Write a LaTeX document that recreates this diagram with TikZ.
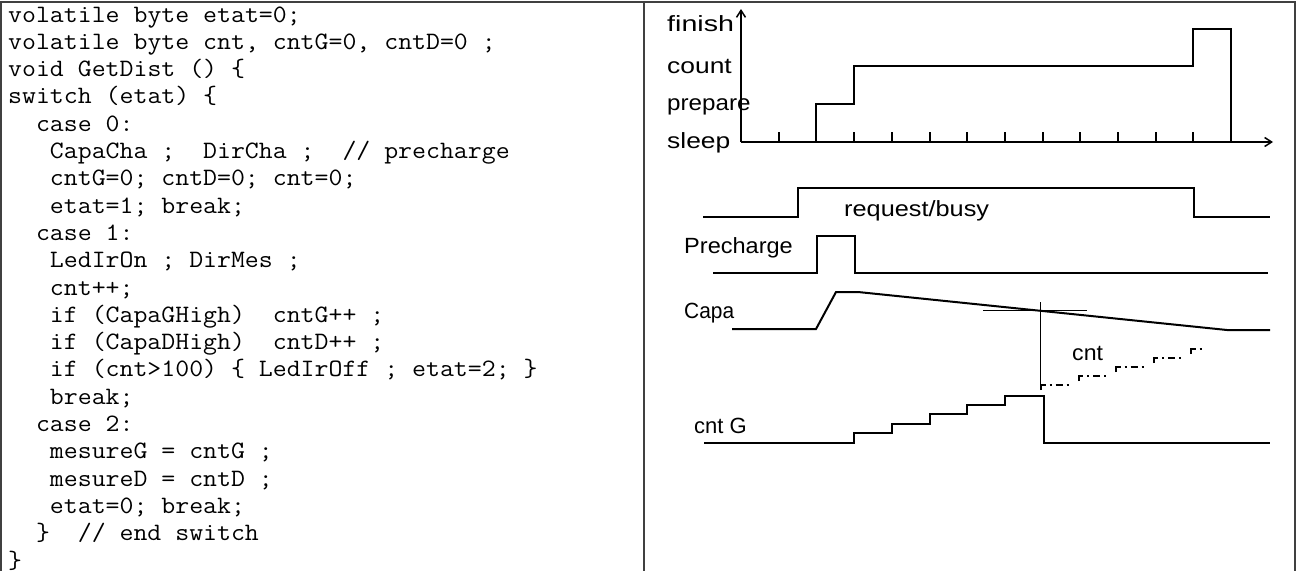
\documentclass[tikz,border=0pt]{standalone}
\usepackage{fontspec}
\setmainfont{Liberation Sans}
\usetikzlibrary{arrows.meta}
\newcommand{\codetxt}[1]{\scalebox{1.082}[1]{\ttfamily\fontsize{25}{27}\selectfont #1}}
\begin{document}
\begin{tikzpicture}[x=1pt,y=-1pt,
  sig/.style={line width=2pt, line join=miter},
  thinline/.style={line width=0.9pt},
  framestyle/.style={line width=1.3pt, draw=black!75},
  codeline/.style={anchor=base west, inner sep=0pt},
  lab/.style={anchor=base west, inner sep=0pt, font=\fontsize{22}{24}\selectfont},
  cntstep/.style={line width=2pt, dash pattern=on 9.5pt off 4pt on 2pt off 4pt on 7pt off 4pt on 2pt off 20pt},
  axisarrow/.style={-{Straight Barb[length=7pt,width=9pt,line width=1.5pt]}}]
\useasboundingbox (0,0) rectangle (1300,571);
% frame
\draw[framestyle] (0,2) -- (1295,2) -- (1295,571);
\draw[framestyle] (1,2) -- (1,571);
\draw[framestyle] (644,2) -- (644,571);
% code
\node[codeline] (l1) at (8,22) {\codetxt{volatile byte etat=0;}};
\node[codeline] (l2) at (8,49.3) {\codetxt{volatile byte cnt, cntG=0, cntD=0 ;}};
\node[codeline] (l3) at (8,76.6) {\codetxt{void GetDist () \{}};
\node[codeline] (l4) at (8,103.9) {\codetxt{switch (etat) \{}};
\node[codeline] (l5) at (8,131.2) {\codetxt{~~case 0:}};
\node[codeline] (l6) at (8,158.5) {\codetxt{~~~CapaCha ;~~DirCha ;~~// precharge}};
\node[codeline] (l7) at (8,185.8) {\codetxt{~~~cntG=0; cntD=0; cnt=0;}};
\node[codeline] (l8) at (8,213.1) {\codetxt{~~~etat=1; break;}};
\node[codeline] (l9) at (8,240.4) {\codetxt{~~case 1:}};
\node[codeline] (l10) at (8,267.7) {\codetxt{~~~LedIrOn ; DirMes ;}};
\node[codeline] (l11) at (8,295) {\codetxt{~~~cnt++;}};
\node[codeline] (l12) at (8,322.3) {\codetxt{~~~if (CapaGHigh)~~cntG++ ;}};
\node[codeline] (l13) at (8,349.6) {\codetxt{~~~if (CapaDHigh)~~cntD++ ;}};
\node[codeline] (l14) at (8,376.9) {\codetxt{~~~if (cnt>100) \{ LedIrOff ; etat=2; \}}};
\node[codeline] (l15) at (8,404.2) {\codetxt{~~~break;}};
\node[codeline] (l16) at (8,431.5) {\codetxt{~~case 2:}};
\node[codeline] (l17) at (8,458.8) {\codetxt{~~~mesureG = cntG ;}};
\node[codeline] (l18) at (8,486.1) {\codetxt{~~~mesureD = cntD ;}};
\node[codeline] (l19) at (8,513.4) {\codetxt{~~~etat=0; break;}};
\node[codeline] (l20) at (8,540.7) {\codetxt{~~\}~~// end switch}};
\node[codeline] (l21) at (8,568) {\codetxt{\}}};
% state diagram axes
\coordinate (O) at (741,142);
\coordinate (Ytop) at (741,9);
\coordinate (Xend) at (1273,142);
\draw[sig, axisarrow] (O) -- (Ytop);
\draw[sig, axisarrow] (O) -- (Xend);
\foreach \k in {1,...,13}
  \draw[sig] ({741+37.7*\k},142) -- ({741+37.7*\k},132);
\draw[sig] (O) -- (816.4,142) -- (816.4,104) -- (854.1,104) -- (854.1,66)
  -- (1193.4,66) -- (1193.4,29) -- (1231.1,29) -- (1231.1,142);
\node[lab] (finish) at (667,31) {\scalebox{1.3}[1]{finish}};
\node[lab] (count) at (667,73) {\scalebox{1.2}[1]{count}};
\node[lab] (prepare) at (667,110) {\scalebox{1.1}[1]{prepare}};
\node[lab] (sleep) at (667,148) {\scalebox{1.2}[1]{sleep}};
% request/busy
\draw[sig] (703,217) -- (798,217) -- (798,188) -- (1194,188) -- (1194,217) -- (1270,217);
\node[lab] (req) at (844,216) {\scalebox{1.15}[1]{request/busy}};
% precharge
\draw[sig] (713,273) -- (817,273) -- (817,236) -- (855,236) -- (855,273) -- (1268,273);
\node[lab] (prech) at (684,253) {\scalebox{1.07}[1]{Precharge}};
% capa
\draw[sig] (732,329) -- (816,329) -- (836,292) -- (858,292) -- (1227,330) -- (1270,330);
\node[lab] (capa) at (684,318) {\scalebox{0.95}[1]{Capa}};
\draw[thinline] (983,310) -- (1087,310);
\draw[thinline] (1040,302) -- (1040,387);
% cnt
\foreach \x/\y in {1041/385, 1078.5/376, 1116/367, 1153.5/358}
  \draw[cntstep] (\x,{\y+5}) -- (\x,\y) -- ({\x+37.5},\y);
\draw[cntstep] (1191,354) -- (1191,349) -- (1205,349);
\node[lab] (cnt) at (1072,360) {\scalebox{1.05}[1]{cnt}};
% cntG
\draw[sig] (704,443) -- (854.1,443) -- (854.1,433) -- (891.8,433) -- (891.8,424)
  -- (929.5,424) -- (929.5,414) -- (967.2,414) -- (967.2,405) -- (1004.9,405)
  -- (1004.9,396) -- (1043.5,396) -- (1043.5,443) -- (1270,443);
\node[lab] (cntg) at (694,433) {cnt G};
\end{tikzpicture}
\end{document}
